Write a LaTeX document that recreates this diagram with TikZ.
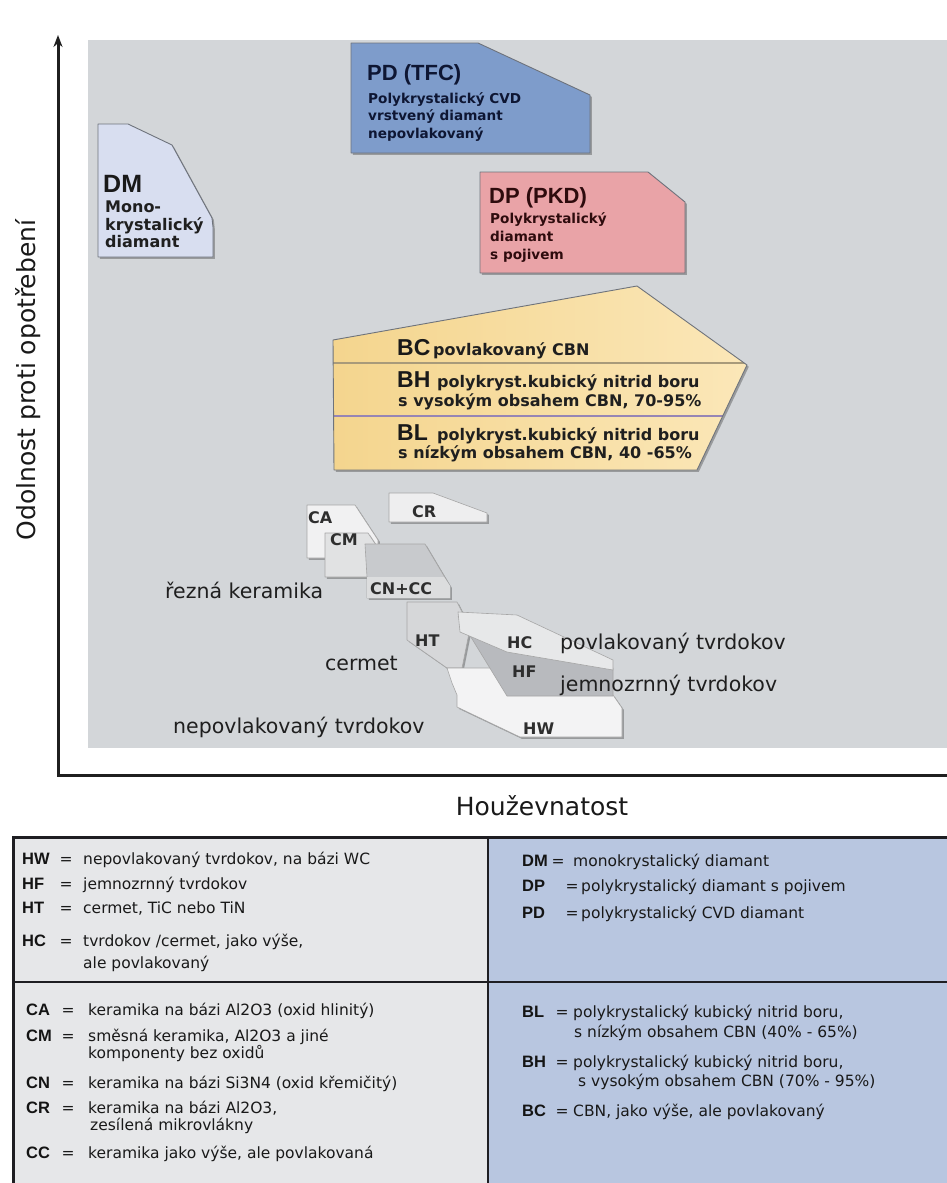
\documentclass[tikz,border=0pt]{standalone}
\usepackage{fontspec}
\setmainfont{DejaVu Sans}
\newfontfamily\libfont{Liberation Sans}
\usetikzlibrary{arrows.meta,shadows}
\definecolor{chartbg}{HTML}{D3D6D9}
\definecolor{dmfill}{HTML}{D8DEF0}
\definecolor{pdfill}{HTML}{7E9CCB}
\definecolor{dpfill}{HTML}{E9A3A7}
\definecolor{bleft}{HTML}{F4D58E}
\definecolor{bright}{HTML}{FBE7B8}
\definecolor{edge}{HTML}{6E737C}
\definecolor{leggray}{HTML}{E6E7E9}
\definecolor{legblue}{HTML}{B8C6E0}
\definecolor{legline}{HTML}{1E1E22}
\definecolor{crfill}{HTML}{EEEEEF}
\definecolor{cafill}{HTML}{F1F1F2}
\definecolor{cmfill}{HTML}{E1E2E3}
\definecolor{cnfill}{HTML}{C8CACD}
\definecolor{cnband}{HTML}{DCDDDE}
\definecolor{htfill}{HTML}{D6D7D9}
\definecolor{hcfill}{HTML}{E7E8E9}
\definecolor{hffill}{HTML}{B8BABE}
\definecolor{hwfill}{HTML}{F3F3F4}
\definecolor{navytext}{HTML}{0E1633}
\definecolor{maroontext}{HTML}{2E0B0D}
\tikzset{
  ax/.style={line width=3pt, draw=black!88},
  shd/.style={drop shadow={shadow xshift=1.8pt, shadow yshift=-1.8pt, opacity=.28, fill=black}},
  outl/.style={line width=.9pt, line join=round},
  soft/.style={line width=.6pt, draw=black!35, line join=round},
  big/.style={inner sep=0pt, anchor=base west, font=\libfont\bfseries\fontsize{22}{24}\selectfont},
  bigdm/.style={inner sep=0pt, anchor=base west, font=\libfont\bfseries\fontsize{25}{27}\selectfont},
  dscs/.style={inner sep=0pt, anchor=base west, font=\bfseries\fontsize{13.6}{16}\selectfont},
  dscm/.style={inner sep=0pt, anchor=base west, font=\bfseries\fontsize{16}{18}\selectfont},
  tag/.style={inner sep=0pt, anchor=base west, font=\bfseries\fontsize{16}{18}\selectfont, text=black!82},
  lbl/.style={inner sep=0pt, anchor=base west, font=\fontsize{20.5}{24}\selectfont, text=black!88},
  axlbl/.style={inner sep=0pt, anchor=base, font=\fontsize{25}{28}\selectfont, text=black!90},
  leg/.style={inner sep=0pt, anchor=base west, font=\fontsize{15.5}{18}\selectfont, text=black!90},
  legab/.style={inner sep=0pt, anchor=base west, font=\libfont\bfseries\fontsize{16.5}{18}\selectfont, text=black!92},
  legeq/.style={inner sep=0pt, anchor=base, font=\fontsize{15.5}{18}\selectfont, text=black!90},
}
\begin{document}
\begin{tikzpicture}[x=1pt,y=-1pt]
\useasboundingbox (0,0) rectangle (947,1183);
\clip (0,0) rectangle (947,1183);
\fill[white] (0,0) rectangle (947,1183);
\fill[chartbg] (88,40) rectangle (947,748);

% ---------- diamond boxes ----------
\filldraw[fill=dmfill, draw=edge, outl, shd] (98,124) -- (128,124) -- (172,145) -- (212,218) -- (213,227) -- (213,257) -- (98,257) -- cycle;
\node[bigdm, text=black!90] (dmT) at (103,192) {DM};
\node[dscm, text=black!88] (dm1) at (105,212) {Mono-};
\node[dscm, text=black!88] (dm2) at (105,230) {krystalický};
\node[dscm, text=black!88] (dm3) at (105,247) {diamant};

\filldraw[fill=pdfill, draw=edge, outl, shd] (351,43) -- (478,43) -- (590,95) -- (590,153) -- (351,153) -- cycle;
\node[big, text=navytext] (pdT) at (367,80) {PD (TFC)};
\node[dscs, text=navytext] (pd1) at (368,103) {Polykrystalický CVD};
\node[dscs, text=navytext] (pd2) at (368,120.5) {vrstvený diamant};
\node[dscs, text=navytext] (pd3) at (368,138) {nepovlakovaný};

\filldraw[fill=dpfill, draw=edge, outl, shd] (480,172) -- (648,172) -- (685,202) -- (685,273) -- (480,273) -- cycle;
\node[big, text=maroontext] (dpT) at (489,203) {DP (PKD)};
\node[dscs, text=maroontext] (dp1) at (490,223) {Polykrystalický};
\node[dscs, text=maroontext] (dp2) at (490,241) {diamant};
\node[dscs, text=maroontext] (dp3) at (490,259) {s pojivem};

% ---------- CBN block ----------
\path[left color=bleft, right color=bright, shd] (333,340) -- (637,286) -- (747,365) -- (697,470) -- (334,470) -- cycle;
\begin{scope}
  \clip (333,340) -- (637,286) -- (747,365) -- (697,470) -- (334,470) -- cycle;
  \draw[line width=2pt, draw={rgb,255:red,168;green,154;blue,122}] (320,363) -- (770,363);
  \draw[line width=2pt, draw={rgb,255:red,150;green,133;blue,181}] (320,416) -- (770,416);
\end{scope}
\draw[draw=edge, outl] (333,340) -- (637,286) -- (747,365) -- (697,470) -- (334,470) -- cycle;
\node[big, font=\libfont\bfseries\fontsize{23}{25}\selectfont, text=black!90] (bcT) at (397,355) {BC};
\node[dscm, text=black!88] (bc1) at (433,355) {povlakovaný CBN};
\node[big, font=\libfont\bfseries\fontsize{23}{25}\selectfont, text=black!90] (bhT) at (397,387) {BH};
\node[dscm, text=black!88] (bh1) at (437,387) {polykryst.kubický nitrid boru};
\node[dscm, text=black!88] (bh2) at (398,406) {s vysokým obsahem CBN, 70-95\%};
\node[big, font=\libfont\bfseries\fontsize{23}{25}\selectfont, text=black!90] (blT) at (397,440) {BL};
\node[dscm, text=black!88] (bl1) at (437,440) {polykryst.kubický nitrid boru};
\node[dscm, text=black!88] (bl2) at (398,458) {s nízkým obsahem CBN, 40 -65\%};

% ---------- ceramics ----------
\filldraw[fill=crfill, soft, shd] (389,493) -- (433,493) -- (487,513) -- (487,522) -- (389,522) -- cycle;
\filldraw[fill=cafill, soft, shd] (307,505) -- (355,505) -- (378,540) -- (378,558) -- (307,558) -- cycle;
\filldraw[fill=cmfill, soft, shd] (325,533) -- (368,533) -- (378,548) -- (378,577) -- (325,577) -- cycle;
\filldraw[fill=cnfill, soft, shd] (365,544) -- (425,544) -- (450,586) -- (450,598) -- (367,598) -- (367,577) -- cycle;
\fill[cnband] (367,577) -- (444,577) -- (450,586) -- (450,598) -- (367,598) -- cycle;
\node[tag] (crT) at (412,517) {CR};
\node[tag] (caT) at (308,523) {CA};
\node[tag] (cmT) at (330,545) {CM};
\node[tag] (cnT) at (370,594) {CN+CC};
\node[lbl] (kerL) at (165,598) {řezná keramika};

% ---------- carbides ----------
\filldraw[fill=htfill, soft, shd] (407,602) -- (457,602) -- (470,628) -- (462,668) -- (447,668) -- (407,640) -- cycle;
\filldraw[fill=hwfill, soft, shd] (447,668) -- (530,668) -- (613,695) -- (622,708) -- (622,737) -- (520,737) -- (457,707) -- (457,695) -- (452,683) -- cycle;
\filldraw[fill=hffill, soft] (458,616) -- (520,640) -- (613,668) -- (613,696) -- (507,696) -- cycle;
\filldraw[fill=hcfill, soft] (458,612) -- (517,615) -- (613,660) -- (613,670) -- (507,652) -- (460,632) -- cycle;
\node[tag] (htT) at (415,646) {HT};
\node[tag] (hcT) at (507,648) {HC};
\node[tag] (hfT) at (512,677) {HF};
\node[tag] (hwT) at (523,734) {HW};
\node[lbl] (hcL) at (560,649) {povlakovaný tvrdokov};
\node[lbl] (hfL) at (560,691) {jemnozrnný tvrdokov};
\node[lbl] (htL) at (325,670) {cermet};
\node[lbl] (hwL) at (173,733) {nepovlakovaný tvrdokov};

% ---------- axes ----------
\coordinate (O) at (58,775);
\coordinate (Ytop) at (58,35);
\coordinate (Xend) at (947,775);
\draw[ax, {Stealth[length=12pt,width=9pt]}-] (Ytop) -- (O) -- (Xend);
\node[axlbl, rotate=90] (yL) at (35,380) {Odolnost proti opotřebení};
\node[axlbl] (xL) at (542,815) {Houževnatost};

% ---------- legend ----------
\fill[leggray] (13,837) rectangle (488,1190);
\fill[legblue] (488,837) rectangle (950,1190);
\draw[draw=legline, line width=3pt] (13,1190) -- (13,837) -- (950,837);
\draw[draw=legline, line width=2.5pt] (488,837) -- (488,1190);
\draw[draw=legline, line width=2pt] (13,982) -- (950,982);

\node[legab] (lHW) at (22,864) {HW};  \node[legeq] (eHW) at (66,864) {=}; \node[leg] (tHW) at (83,864) {nepovlakovaný tvrdokov, na bázi WC};
\node[legab] (lHF) at (22,889) {HF};  \node[legeq] (eHF) at (66,889) {=}; \node[leg] (tHF) at (83,889) {jemnozrnný tvrdokov};
\node[legab] (lHT) at (22,913) {HT};  \node[legeq] (eHT) at (66,913) {=}; \node[leg] (tHT) at (83,913) {cermet, TiC nebo TiN};
\node[legab] (lHC) at (22,946) {HC};  \node[legeq] (eHC) at (66,946) {=}; \node[leg] (tHC) at (83,946) {tvrdokov /cermet, jako výše,};
\node[leg] (tHC2) at (83,968) {ale povlakovaný};

\node[legab] (lCA) at (26,1015) {CA}; \node[legeq] (eCA) at (68,1015) {=}; \node[leg] (tCA) at (88,1015) {keramika na bázi Al2O3 (oxid hlinitý)};
\node[legab] (lCM) at (26,1041) {CM}; \node[legeq] (eCM) at (68,1041) {=}; \node[leg] (tCM) at (88,1041) {směsná keramika, Al2O3 a jiné};
\node[leg] (tCM2) at (88,1058) {komponenty bez oxidů};
\node[legab] (lCN) at (26,1088) {CN}; \node[legeq] (eCN) at (68,1088) {=}; \node[leg] (tCN) at (88,1088) {keramika na bázi Si3N4 (oxid křemičitý)};
\node[legab] (lCR) at (26,1113) {CR}; \node[legeq] (eCR) at (68,1113) {=}; \node[leg] (tCR) at (88,1113) {keramika na bázi Al2O3,};
\node[leg] (tCR2) at (90,1130) {zesílená mikrovlákny};
\node[legab] (lCC) at (26,1158) {CC}; \node[legeq] (eCC) at (68,1158) {=}; \node[leg] (tCC) at (88,1158) {keramika jako výše, ale povlakovaná};

\node[legab] (lDM) at (522,866) {DM}; \node[legeq] (eDM) at (558,866) {=}; \node[leg] (tDM) at (573,866) {monokrystalický diamant};
\node[legab] (lDP) at (522,891) {DP}; \node[legeq] (eDP) at (572,891) {=}; \node[leg] (tDP) at (581,891) {polykrystalický diamant s pojivem};
\node[legab] (lPD) at (522,918) {PD}; \node[legeq] (ePD) at (572,918) {=}; \node[leg] (tPD) at (581,918) {polykrystalický CVD diamant};

\node[legab] (lBL) at (522,1017) {BL}; \node[legeq] (eBL) at (562,1017) {=}; \node[leg] (tBL) at (573,1017) {polykrystalický kubický nitrid boru,};
\node[leg] (tBL2) at (574,1037) {s nízkým obsahem CBN (40\% - 65\%)};
\node[legab] (lBH) at (522,1067) {BH}; \node[legeq] (eBH) at (562,1067) {=}; \node[leg] (tBH) at (573,1067) {polykrystalický kubický nitrid boru,};
\node[leg] (tBH2) at (578,1086) {s vysokým obsahem CBN (70\% - 95\%)};
\node[legab] (lBC) at (522,1116) {BC}; \node[legeq] (eBC) at (562,1116) {=}; \node[leg] (tBC) at (573,1116) {CBN, jako výše, ale povlakovaný};
\end{tikzpicture}
\end{document}
